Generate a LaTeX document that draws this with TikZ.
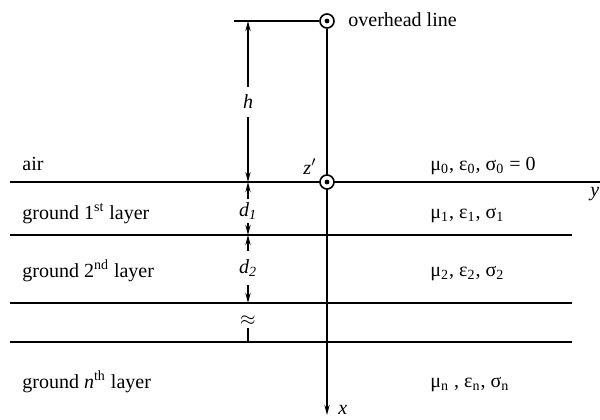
\documentclass[tikz,border=0pt]{standalone}
\usepackage{fontspec}
\setmainfont{Liberation Serif}
\usetikzlibrary{arrows.meta}
\begin{document}
\begin{tikzpicture}[x=0.5pt,y=-0.5pt,font=\fontsize{10}{12}\selectfont,
  layer/.style={line width=1.1pt},
  dim/.style={line width=0.9pt},
  tip/.style={-{Stealth[length=5pt,width=2.6pt]}},
  lbl/.style={anchor=base west,inner sep=0pt},
  dimlbl/.style={fill=white,inner sep=1.5pt},
  ring/.style={circle,draw,fill=white,line width=0.8pt,minimum size=7pt,inner sep=0pt}]
\useasboundingbox (0,0) rectangle (600,419);
% layer lines
\coordinate (l0a) at (10,182); \coordinate (l0b) at (572,182);
\coordinate (l1a) at (10,235); \coordinate (l1b) at (572,235);
\coordinate (l2a) at (10,303); \coordinate (l2b) at (572,303);
\coordinate (l3a) at (10,342); \coordinate (l3b) at (572,342);
\coordinate (yend) at (600,182);
\coordinate (xend) at (327,415);
\coordinate (lead) at (234,21);
\draw[layer] (l0a) -- (l0b);
\draw[layer] (l1a) -- (l1b);
\draw[layer] (l2a) -- (l2b);
\draw[layer] (l3a) -- (l3b);
\draw[line width=0.7pt] (l0b) -- (yend);
% conductors
\node[ring] (top) at (327,21) {};
\draw[line width=0.8pt,tip] (top.south) -- (xend);
\node[ring] (img) at (327,182) {};
\fill (top.center) circle (1.2pt);
\fill (img.center) circle (1.2pt);
\draw[line width=0.6pt] (lead) -- (top.west);
% dimension h
\coordinate (h0) at (248,21); \coordinate (h1) at (248,182);
\node[dimlbl,inner sep=4pt] (hl) at (248,102) {\textit{h}};
\draw[dim,tip] (hl.north) -- (h0);
\draw[dim,tip] (hl.south) -- (h1);
% dimension d1
\coordinate (d1b) at (248,235);
\node[dimlbl] (d1l) at (248,211) {\textit{d\textsubscript{1}}};
\draw[dim,tip] (d1l.north) -- (h1);
\draw[dim,tip] (d1l.south) -- (d1b);
% dimension d2
\coordinate (d2b) at (248,303);
\node[dimlbl,inner sep=4pt] (d2l) at (248,268) {\textit{d\textsubscript{2}}};
\draw[dim,tip] (d2l.north) -- (d1b);
\draw[dim,tip] (d2l.south) -- (d2b);
% approx
\coordinate (d3b) at (248,342);
\node[inner sep=1pt] (ap) at (248,321) {$\approx$};
\draw[dim] (ap.south) -- (d3b);
% labels
\node[lbl] (ov) at (348,26) {overhead line};
\node[lbl] (air) at (22,170) {air};
\node[lbl] (g1) at (22,219) {ground 1\textsuperscript{st} layer};
\node[lbl] (g2) at (22,277) {ground 2\textsuperscript{nd} layer};
\node[lbl] (gn) at (22,388) {ground \textit{n}\textsuperscript{th} layer};
\node[lbl] (p0) at (430,170) {μ\textsubscript{0}, ε\textsubscript{0}, σ\textsubscript{0} = 0};
\node[lbl] (p1) at (430,218) {μ\textsubscript{1}, ε\textsubscript{1}, σ\textsubscript{1}};
\node[lbl] (p2) at (430,276) {μ\textsubscript{2}, ε\textsubscript{2}, σ\textsubscript{2}};
\node[lbl] (pn) at (430,387) {μ\textsubscript{n} , ε\textsubscript{n}, σ\textsubscript{n}};
\node[lbl] (zl) at (303,174) {\textit{z}$'$};
\node[lbl] (yl) at (590,196) {\textit{y}};
\node[lbl] (xl) at (338,414) {\textit{x}};
\end{tikzpicture}
\end{document}
